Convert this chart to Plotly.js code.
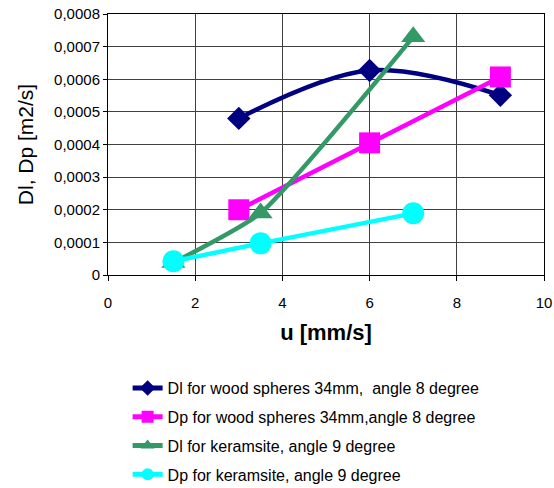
<!DOCTYPE html>
<html><head><meta charset="utf-8">
<script src="https://cdn.plot.ly/plotly-3.0.1.min.js"></script>
<style>html,body{margin:0;padding:0;background:#fff;}#chart{width:554px;height:488px;}</style>
</head><body><div id="chart"></div>
<script>
const names = [
  "Dl for wood spheres 34mm,\u00a0 angle 8 degree",
  "Dp for wood spheres 34mm,angle 8 degree",
  "Dl for keramsite, angle 9 degree",
  "Dp for keramsite, angle 9 degree"
];
const xWood = [3, 6, 9];
const dlWood = [0.00048, 0.000627, 0.000551];
const dpWood = [0.0002, 0.000405, 0.000607];
const xKer = [1.5, 3.5, 7];
const dlKer = [0.000038, 0.00019, 0.00073];
const dpKer = [0.000042, 0.000097, 0.000189];
const yTickVals = [0, 0.0001, 0.0002, 0.0003, 0.0004, 0.0005, 0.0006, 0.0007, 0.0008];
const yTickText = ["0", "0,0001", "0,0002", "0,0003", "0,0004", "0,0005", "0,0006", "0,0007", "0,0008"];
const xTickVals = [0, 2, 4, 6, 8, 10];
const xTickText = ["0", "2", "4", "6", "8", "10"];

const traces = [
  {x: xWood, y: dlWood, name: names[0], legendgroup: "a", mode: "lines+markers",
   line: {color: "#000080", width: 4.5, shape: "spline", smoothing: 1},
   marker: {symbol: "diamond", size: 18, color: "#000080"}},
  {x: xWood, y: dpWood, name: names[1], legendgroup: "b", mode: "lines+markers",
   line: {color: "#FF00FF", width: 4.5},
   marker: {symbol: "square", size: 21, color: "#FF00FF"}},
  {x: xKer, y: dlKer, name: names[2], legendgroup: "c", mode: "lines+markers",
   line: {color: "#339966", width: 4.5, shape: "spline", smoothing: 0.5},
   marker: {symbol: "triangle-up", size: 21, color: "#339966"}},
  {x: xKer, y: dpKer, name: names[3], legendgroup: "d", mode: "lines+markers",
   line: {color: "#00FFFF", width: 4.5},
   marker: {symbol: "circle", size: 22, color: "#00FFFF"}}
];

const layout = {
  width: 554, height: 488,
  margin: {l: 108, r: 10, t: 14, b: 213, autoexpand: false},
  paper_bgcolor: "#fff", plot_bgcolor: "#fff",
  font: {family: "Liberation Sans, Arial, sans-serif", color: "#000", size: 15},
  showlegend: true,
  xaxis: {
    range: [0, 10], tickvals: xTickVals, ticktext: xTickText,
    showgrid: true, gridcolor: "#404040", gridwidth: 1,
    showline: true, linecolor: "#000", linewidth: 1, mirror: true,
    ticks: "outside", ticklen: 5, tickcolor: "#000", ticklabelstandoff: 9,
    zeroline: false,
    tickfont: {size: 15},
    title: {text: "<b>u [mm/s]</b>", font: {size: 22}, standoff: 14}
  },
  yaxis: {
    range: [0, 0.0008], tickvals: yTickVals, ticktext: yTickText,
    showgrid: true, gridcolor: "#404040", gridwidth: 1,
    showline: true, linecolor: "#000", linewidth: 1, mirror: true,
    ticks: "outside", ticklen: 4, tickcolor: "#000",
    zeroline: false,
    tickfont: {size: 15},
    title: {text: "Dl, Dp [m2/s]", font: {size: 21}, standoff: 14}
  },
  legend: {
    x: 0.045, y: -0.368, xanchor: "left", yanchor: "top",
    bgcolor: "rgba(0,0,0,0)", font: {size: 16},
    tracegroupgap: 5, itemsizing: "constant"
  }
};
Plotly.newPlot("chart", traces, layout, {displayModeBar: false, staticPlot: true});
</script></body></html>
